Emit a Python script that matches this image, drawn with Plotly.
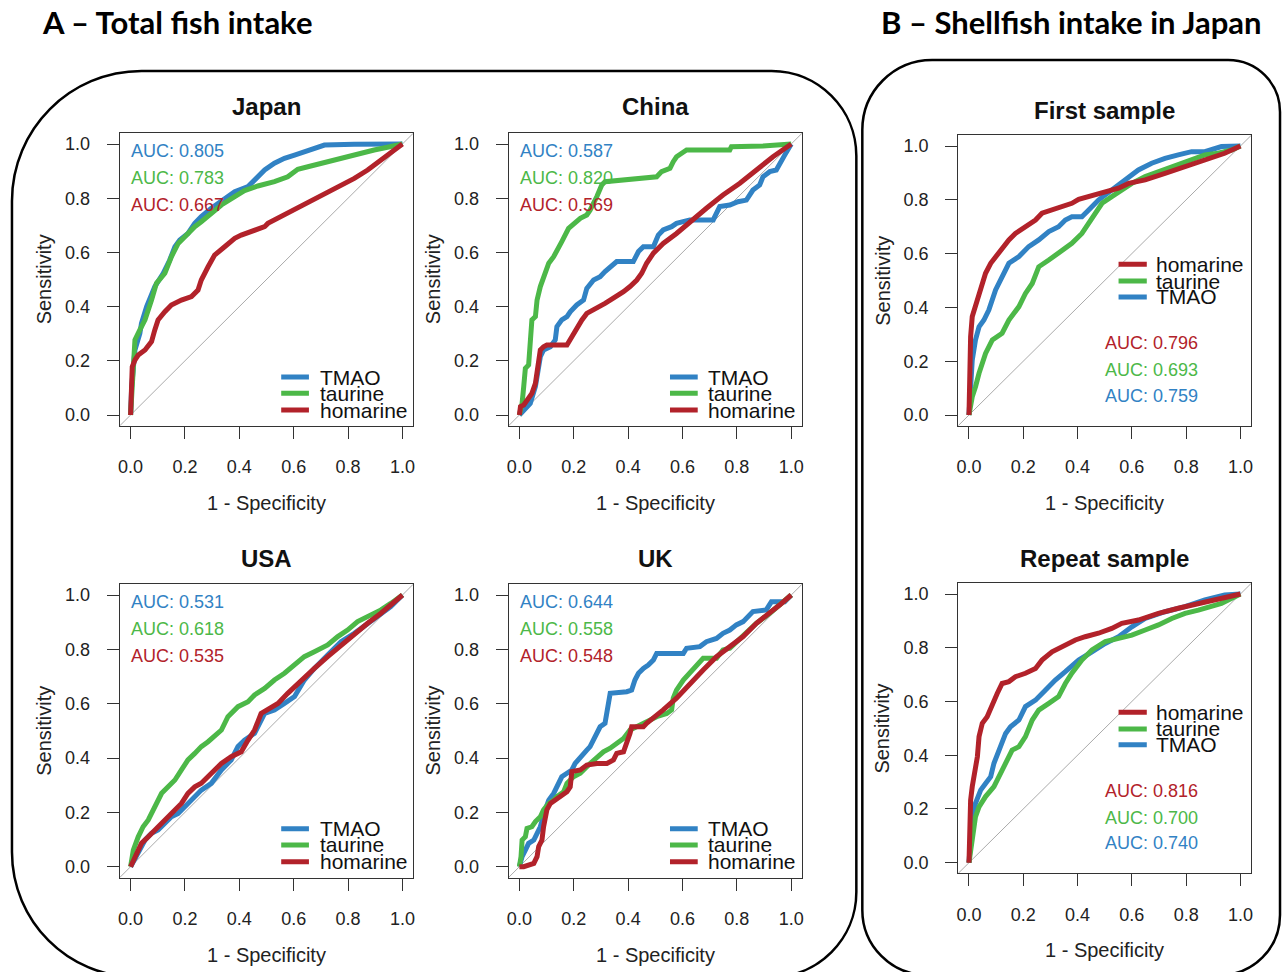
import plotly.graph_objects as go

W, H = 1287, 972
BLUE = "#3182C4"
GREEN = "#4CB848"
RED = "#B2222A"
FONT = "Liberation Sans, Arial, Helvetica, sans-serif"

# ---------------- data ----------------
japan_tmao_x = [0, 0.004, 0.016, 0.034, 0.040, 0.059, 0.089, 0.120, 0.144, 0.163, 0.181, 0.211, 0.236, 0.260, 0.297, 0.346, 0.383, 0.432, 0.456, 0.493, 0.529, 0.566, 0.603, 0.639, 0.676, 0.713, 0.823, 1.0]
japan_tmao_y = [0, 0.105, 0.240, 0.301, 0.338, 0.400, 0.474, 0.523, 0.572, 0.621, 0.646, 0.670, 0.707, 0.732, 0.763, 0.800, 0.824, 0.843, 0.867, 0.904, 0.929, 0.947, 0.959, 0.972, 0.984, 0.996, 0.999, 1.0]
japan_taurine_x = [0, 0.006, 0.016, 0.034, 0.053, 0.077, 0.095, 0.126, 0.150, 0.175, 0.205, 0.236, 0.260, 0.297, 0.334, 0.383, 0.419, 0.468, 0.529, 0.578, 0.615, 0.652, 0.700, 0.749, 0.798, 0.847, 0.896, 0.945, 1.0]
japan_taurine_y = [0, 0.129, 0.277, 0.314, 0.351, 0.424, 0.486, 0.523, 0.584, 0.633, 0.664, 0.695, 0.713, 0.744, 0.775, 0.806, 0.828, 0.845, 0.861, 0.879, 0.907, 0.916, 0.929, 0.938, 0.951, 0.968, 0.978, 0.988, 1.0]
japan_homarine_x = [0, 0.001, 0.006, 0.016, 0.028, 0.053, 0.077, 0.089, 0.101, 0.126, 0.150, 0.187, 0.224, 0.248, 0.260, 0.285, 0.309, 0.346, 0.383, 0.407, 0.456, 0.493, 0.505, 0.542, 0.578, 0.627, 0.676, 0.725, 0.774, 0.823, 0.872, 0.921, 0.969, 1.0]
japan_homarine_y = [0, 0.105, 0.178, 0.203, 0.221, 0.240, 0.271, 0.314, 0.351, 0.381, 0.406, 0.424, 0.437, 0.461, 0.498, 0.547, 0.590, 0.621, 0.652, 0.664, 0.683, 0.695, 0.707, 0.726, 0.744, 0.769, 0.793, 0.818, 0.843, 0.873, 0.904, 0.941, 0.972, 1.0]

china_tmao_x = [0, 0.016, 0.040, 0.059, 0.065, 0.077, 0.089, 0.114, 0.132, 0.138, 0.156, 0.175, 0.187, 0.211, 0.236, 0.248, 0.273, 0.297, 0.315, 0.340, 0.358, 0.419, 0.438, 0.456, 0.493, 0.511, 0.529, 0.560, 0.578, 0.627, 0.676, 0.713, 0.737, 0.774, 0.804, 0.835, 0.859, 0.884, 0.896, 0.921, 0.945, 0.957, 0.976, 1.0]
china_tmao_y = [0, 0.018, 0.043, 0.105, 0.154, 0.215, 0.240, 0.252, 0.277, 0.326, 0.351, 0.363, 0.381, 0.406, 0.424, 0.467, 0.498, 0.510, 0.529, 0.554, 0.566, 0.566, 0.603, 0.621, 0.621, 0.664, 0.683, 0.695, 0.707, 0.720, 0.720, 0.720, 0.769, 0.775, 0.787, 0.793, 0.830, 0.849, 0.879, 0.898, 0.904, 0.929, 0.959, 1.0]
china_taurine_x = [0, 0.010, 0.016, 0.022, 0.034, 0.040, 0.046, 0.059, 0.065, 0.077, 0.089, 0.108, 0.126, 0.138, 0.156, 0.181, 0.199, 0.224, 0.248, 0.260, 0.285, 0.303, 0.315, 0.395, 0.419, 0.505, 0.523, 0.554, 0.566, 0.578, 0.597, 0.615, 0.774, 0.780, 0.896, 1.0]
china_taurine_y = [0, 0.043, 0.105, 0.172, 0.185, 0.252, 0.351, 0.363, 0.424, 0.474, 0.510, 0.560, 0.584, 0.603, 0.640, 0.689, 0.707, 0.726, 0.738, 0.756, 0.806, 0.849, 0.861, 0.867, 0.873, 0.879, 0.898, 0.910, 0.935, 0.953, 0.966, 0.978, 0.978, 0.990, 0.993, 1.0]
china_homarine_x = [0, 0.004, 0.016, 0.028, 0.046, 0.059, 0.065, 0.071, 0.077, 0.089, 0.101, 0.175, 0.193, 0.211, 0.230, 0.248, 0.273, 0.297, 0.315, 0.334, 0.358, 0.383, 0.407, 0.432, 0.450, 0.468, 0.493, 0.529, 0.578, 0.627, 0.688, 0.749, 0.811, 0.872, 0.933, 1.0]
china_homarine_y = [0, 0.031, 0.037, 0.055, 0.080, 0.117, 0.154, 0.191, 0.240, 0.252, 0.258, 0.258, 0.289, 0.326, 0.351, 0.375, 0.387, 0.400, 0.412, 0.424, 0.437, 0.455, 0.474, 0.498, 0.523, 0.560, 0.597, 0.633, 0.670, 0.713, 0.763, 0.812, 0.855, 0.904, 0.953, 1.0]

usa_tmao_x = [0, 0.028, 0.053, 0.077, 0.101, 0.126, 0.150, 0.175, 0.199, 0.224, 0.260, 0.297, 0.334, 0.370, 0.395, 0.419, 0.456, 0.493, 0.529, 0.566, 0.603, 0.639, 0.676, 0.725, 0.774, 0.823, 0.872, 0.921, 0.957, 1.0]
usa_tmao_y = [0, 0.049, 0.098, 0.123, 0.135, 0.160, 0.184, 0.196, 0.221, 0.245, 0.282, 0.307, 0.356, 0.393, 0.442, 0.466, 0.491, 0.564, 0.577, 0.601, 0.626, 0.687, 0.730, 0.779, 0.828, 0.859, 0.896, 0.933, 0.957, 1.0]
usa_taurine_x = [0, 0.010, 0.028, 0.046, 0.065, 0.089, 0.114, 0.138, 0.163, 0.187, 0.211, 0.236, 0.260, 0.285, 0.309, 0.334, 0.358, 0.395, 0.432, 0.456, 0.493, 0.529, 0.566, 0.603, 0.639, 0.676, 0.725, 0.762, 0.798, 0.835, 0.872, 0.921, 0.957, 1.0]
usa_taurine_y = [0, 0.061, 0.110, 0.147, 0.172, 0.221, 0.270, 0.294, 0.319, 0.356, 0.393, 0.417, 0.442, 0.460, 0.479, 0.503, 0.552, 0.589, 0.607, 0.632, 0.656, 0.687, 0.712, 0.742, 0.773, 0.791, 0.816, 0.847, 0.871, 0.902, 0.920, 0.945, 0.969, 1.0]
usa_homarine_x = [0, 0.016, 0.040, 0.065, 0.089, 0.114, 0.138, 0.163, 0.187, 0.211, 0.236, 0.260, 0.297, 0.334, 0.370, 0.407, 0.432, 0.456, 0.480, 0.505, 0.542, 0.578, 0.627, 0.676, 0.725, 0.774, 0.823, 0.872, 0.921, 0.957, 1.0]
usa_homarine_y = [0, 0.037, 0.086, 0.110, 0.135, 0.160, 0.184, 0.209, 0.233, 0.270, 0.294, 0.307, 0.344, 0.380, 0.405, 0.423, 0.466, 0.503, 0.564, 0.577, 0.601, 0.638, 0.687, 0.730, 0.773, 0.816, 0.859, 0.896, 0.933, 0.963, 1.0]

uk_tmao_x = [0, 0.010, 0.022, 0.034, 0.053, 0.065, 0.077, 0.095, 0.108, 0.126, 0.138, 0.156, 0.175, 0.193, 0.205, 0.224, 0.248, 0.260, 0.273, 0.285, 0.297, 0.315, 0.328, 0.334, 0.395, 0.413, 0.425, 0.438, 0.456, 0.474, 0.493, 0.505, 0.603, 0.615, 0.664, 0.688, 0.725, 0.749, 0.774, 0.798, 0.823, 0.841, 0.859, 0.908, 0.927, 0.976, 1.0]
uk_tmao_y = [0, 0.037, 0.061, 0.086, 0.098, 0.123, 0.147, 0.209, 0.245, 0.270, 0.294, 0.331, 0.344, 0.356, 0.380, 0.405, 0.429, 0.442, 0.466, 0.491, 0.515, 0.528, 0.601, 0.638, 0.644, 0.650, 0.687, 0.712, 0.730, 0.742, 0.761, 0.785, 0.785, 0.804, 0.810, 0.828, 0.840, 0.859, 0.871, 0.890, 0.902, 0.920, 0.939, 0.945, 0.975, 0.975, 1.0]
uk_taurine_x = [0, 0.006, 0.010, 0.022, 0.028, 0.046, 0.059, 0.077, 0.089, 0.108, 0.126, 0.138, 0.163, 0.175, 0.199, 0.224, 0.260, 0.285, 0.309, 0.334, 0.358, 0.383, 0.407, 0.432, 0.468, 0.505, 0.542, 0.560, 0.566, 0.578, 0.603, 0.627, 0.652, 0.676, 0.725, 0.749, 0.774, 0.798, 0.835, 0.872, 0.921, 0.957, 1.0]
uk_taurine_y = [0, 0.037, 0.098, 0.110, 0.141, 0.147, 0.166, 0.184, 0.209, 0.233, 0.245, 0.258, 0.276, 0.307, 0.331, 0.344, 0.380, 0.405, 0.423, 0.436, 0.454, 0.472, 0.503, 0.515, 0.534, 0.552, 0.564, 0.577, 0.620, 0.650, 0.687, 0.712, 0.736, 0.767, 0.767, 0.798, 0.804, 0.828, 0.865, 0.896, 0.933, 0.963, 1.0]
uk_homarine_x = [0, 0.016, 0.053, 0.065, 0.071, 0.083, 0.089, 0.101, 0.114, 0.132, 0.150, 0.175, 0.187, 0.193, 0.224, 0.248, 0.285, 0.322, 0.346, 0.358, 0.383, 0.395, 0.407, 0.413, 0.456, 0.468, 0.493, 0.529, 0.578, 0.627, 0.676, 0.725, 0.774, 0.823, 0.872, 0.921, 0.957, 1.0]
uk_homarine_y = [0, 0.0, 0.012, 0.037, 0.074, 0.098, 0.147, 0.209, 0.233, 0.245, 0.258, 0.276, 0.294, 0.350, 0.356, 0.374, 0.380, 0.380, 0.393, 0.417, 0.423, 0.454, 0.491, 0.515, 0.515, 0.528, 0.546, 0.577, 0.620, 0.675, 0.724, 0.773, 0.810, 0.847, 0.896, 0.933, 0.963, 1.0]

first_tmao_x = [0, 0.006, 0.012, 0.024, 0.037, 0.055, 0.073, 0.098, 0.122, 0.147, 0.184, 0.220, 0.257, 0.294, 0.330, 0.355, 0.379, 0.416, 0.441, 0.477, 0.526, 0.575, 0.624, 0.673, 0.722, 0.771, 0.820, 0.869, 0.930, 1.0]
first_tmao_y = [0, 0.130, 0.204, 0.279, 0.328, 0.353, 0.390, 0.465, 0.514, 0.564, 0.589, 0.626, 0.651, 0.682, 0.700, 0.725, 0.737, 0.737, 0.762, 0.799, 0.836, 0.874, 0.911, 0.936, 0.954, 0.967, 0.979, 0.979, 0.998, 1.0]
first_taurine_x = [0, 0.012, 0.024, 0.037, 0.061, 0.086, 0.122, 0.147, 0.184, 0.208, 0.233, 0.257, 0.294, 0.330, 0.379, 0.416, 0.441, 0.465, 0.490, 0.526, 0.563, 0.600, 0.649, 0.698, 0.747, 0.820, 0.869, 0.918, 0.967, 1.0]
first_taurine_y = [0, 0.068, 0.105, 0.155, 0.229, 0.279, 0.304, 0.353, 0.403, 0.452, 0.489, 0.551, 0.576, 0.601, 0.638, 0.675, 0.713, 0.750, 0.787, 0.812, 0.836, 0.861, 0.886, 0.905, 0.923, 0.948, 0.967, 0.973, 0.985, 1.0]
first_homarine_x = [0, 0.002, 0.006, 0.012, 0.024, 0.037, 0.049, 0.061, 0.080, 0.098, 0.122, 0.147, 0.171, 0.208, 0.245, 0.269, 0.306, 0.343, 0.379, 0.404, 0.441, 0.477, 0.514, 0.551, 0.588, 0.649, 0.722, 0.796, 0.869, 0.942, 1.0]
first_homarine_y = [0, 0.105, 0.291, 0.366, 0.403, 0.440, 0.477, 0.527, 0.564, 0.589, 0.620, 0.651, 0.675, 0.700, 0.725, 0.750, 0.762, 0.772, 0.787, 0.802, 0.812, 0.822, 0.830, 0.843, 0.861, 0.874, 0.898, 0.923, 0.948, 0.973, 1.0]

repeat_tmao_x = [0, 0.006, 0.012, 0.024, 0.043, 0.061, 0.080, 0.092, 0.110, 0.135, 0.153, 0.184, 0.208, 0.245, 0.282, 0.318, 0.355, 0.404, 0.453, 0.502, 0.551, 0.600, 0.649, 0.722, 0.796, 0.869, 0.942, 1.0]
repeat_tmao_y = [0, 0.122, 0.171, 0.221, 0.270, 0.295, 0.320, 0.370, 0.419, 0.481, 0.506, 0.531, 0.581, 0.605, 0.643, 0.680, 0.711, 0.754, 0.785, 0.816, 0.841, 0.878, 0.909, 0.934, 0.953, 0.978, 0.996, 1.0]
repeat_taurine_x = [0, 0.012, 0.024, 0.037, 0.061, 0.092, 0.122, 0.159, 0.184, 0.208, 0.233, 0.257, 0.294, 0.330, 0.355, 0.379, 0.416, 0.453, 0.502, 0.551, 0.600, 0.649, 0.698, 0.747, 0.796, 0.845, 0.894, 0.930, 1.0]
repeat_taurine_y = [0, 0.097, 0.171, 0.208, 0.246, 0.283, 0.345, 0.419, 0.432, 0.469, 0.531, 0.568, 0.593, 0.618, 0.667, 0.705, 0.754, 0.792, 0.823, 0.835, 0.847, 0.866, 0.885, 0.909, 0.928, 0.940, 0.953, 0.965, 1.0]
repeat_homarine_x = [0, 0.002, 0.006, 0.012, 0.018, 0.031, 0.037, 0.049, 0.067, 0.086, 0.104, 0.122, 0.147, 0.171, 0.208, 0.245, 0.269, 0.306, 0.343, 0.392, 0.428, 0.477, 0.526, 0.563, 0.624, 0.698, 0.771, 0.845, 0.918, 1.0]
repeat_homarine_y = [0, 0.097, 0.233, 0.283, 0.320, 0.395, 0.469, 0.519, 0.543, 0.593, 0.630, 0.667, 0.674, 0.692, 0.705, 0.723, 0.754, 0.785, 0.804, 0.829, 0.841, 0.854, 0.872, 0.891, 0.903, 0.928, 0.947, 0.965, 0.984, 1.0]

markers = ["TMAO", "taurine", "homarine"]
colors = {"TMAO": BLUE, "taurine": GREEN, "homarine": RED}

auc_values = {
    "Japan": {"TMAO": "0.805", "taurine": "0.783", "homarine": "0.667"},
    "China": {"TMAO": "0.587", "taurine": "0.820", "homarine": "0.569"},
    "USA": {"TMAO": "0.531", "taurine": "0.618", "homarine": "0.535"},
    "UK": {"TMAO": "0.644", "taurine": "0.558", "homarine": "0.548"},
    "First sample": {"TMAO": "0.759", "taurine": "0.693", "homarine": "0.796"},
    "Repeat sample": {"TMAO": "0.740", "taurine": "0.700", "homarine": "0.816"},
}

curves = {
    "Japan": {"TMAO": (japan_tmao_x, japan_tmao_y), "taurine": (japan_taurine_x, japan_taurine_y), "homarine": (japan_homarine_x, japan_homarine_y)},
    "China": {"TMAO": (china_tmao_x, china_tmao_y), "taurine": (china_taurine_x, china_taurine_y), "homarine": (china_homarine_x, china_homarine_y)},
    "USA": {"TMAO": (usa_tmao_x, usa_tmao_y), "taurine": (usa_taurine_x, usa_taurine_y), "homarine": (usa_homarine_x, usa_homarine_y)},
    "UK": {"TMAO": (uk_tmao_x, uk_tmao_y), "taurine": (uk_taurine_x, uk_taurine_y), "homarine": (uk_homarine_x, uk_homarine_y)},
    "First sample": {"TMAO": (first_tmao_x, first_tmao_y), "taurine": (first_taurine_x, first_taurine_y), "homarine": (first_homarine_x, first_homarine_y)},
    "Repeat sample": {"TMAO": (repeat_tmao_x, repeat_tmao_y), "taurine": (repeat_taurine_x, repeat_taurine_y), "homarine": (repeat_homarine_x, repeat_homarine_y)},
}

tick_vals = [0, 0.2, 0.4, 0.6, 0.8, 1.0]
tick_text = ["0.0", "0.2", "0.4", "0.6", "0.8", "1.0"]

# ---------------- layout geometry (pixels) ----------------
# name: (x of 0, x of 1, y of 1, y of 0, title y, xlabel y, ylabel x, panel type)
panels = [
    ("Japan", 129.0, 401.7, 144.0, 415.0, 107, 503, 42, "A"),
    ("China", 519.0, 791.7, 144.0, 415.0, 107, 503, 432, "A"),
    ("USA", 129.0, 401.7, 595.0, 866.7, 558, 955, 42, "A"),
    ("UK", 519.0, 791.7, 595.0, 866.7, 558, 955, 432, "A"),
    ("First sample", 970.0, 1242.3, 146.0, 415.0, 111, 503, 883, "B"),
    ("Repeat sample", 970.0, 1242.3, 594.0, 862.7, 558, 950, 883, "B"),
]

PAD = 0.04
fig = go.Figure()
annotations = []
shapes = []
layout_axes = {}


def px(x):
    return x / W


def py(y):
    return 1 - y / H


for i, (name, x0p, x1p, y1p, y0p, ty, xly, ylx, kind) in enumerate(panels):
    k = i + 1
    xa = "x" if k == 1 else f"x{k}"
    ya = "y" if k == 1 else f"y{k}"
    sx = x1p - x0p
    sy = y0p - y1p
    xdom = [px(x0p - PAD * sx), px(x1p + PAD * sx)]
    ydom = [py(y0p + PAD * sy), py(y1p - PAD * sy)]
    axcommon = dict(
        range=[-PAD, 1 + PAD], tickvals=tick_vals, ticktext=tick_text,
        ticks="outside", ticklen=12, tickwidth=1, tickcolor="#333",
        showline=True, mirror=True, linecolor="#333", linewidth=1,
        showgrid=False, zeroline=False, fixedrange=True,
        tickfont=dict(family=FONT, size=18, color="#222"),
    )
    layout_axes["xaxis" if k == 1 else f"xaxis{k}"] = dict(axcommon, domain=xdom, anchor=ya, ticklabelstandoff=13)
    layout_axes["yaxis" if k == 1 else f"yaxis{k}"] = dict(axcommon, domain=ydom, anchor=xa, ticklabelstandoff=13)

    # diagonal reference
    fig.add_trace(go.Scatter(x=[-PAD, 1 + PAD], y=[-PAD, 1 + PAD], mode="lines",
                             line=dict(color="#aaaaaa", width=1), xaxis=xa, yaxis=ya,
                             showlegend=False, hoverinfo="skip"))
    for m in markers:
        cx, cy = curves[name][m]
        fig.add_trace(go.Scatter(x=cx, y=cy, mode="lines", name=m,
                                 line=dict(color=colors[m], width=5),
                                 xaxis=xa, yaxis=ya, showlegend=False))

    # titles
    annotations.append(dict(text=f"<b>{name}</b>", x=px((x0p + x1p) / 2), y=py(ty), xref="paper", yref="paper",
                            showarrow=False, font=dict(family=FONT, size=24, color="#111"),
                            xanchor="center", yanchor="middle"))
    annotations.append(dict(text="1 - Specificity", x=px((x0p + x1p) / 2), y=py(xly), xref="paper", yref="paper",
                            showarrow=False, font=dict(family=FONT, size=20, color="#222"),
                            xanchor="center", yanchor="middle"))
    annotations.append(dict(text="Sensitivity", x=px(ylx), y=py((y0p + y1p) / 2), xref="paper", yref="paper",
                            showarrow=False, textangle=-90, font=dict(family=FONT, size=20, color="#222"),
                            xanchor="center", yanchor="middle"))

    if kind == "A":
        auc_order = markers
        auc_y = [0.976, 0.874, 0.774]
        auc_x = -0.005
        leg_order = markers
        leg_y = [0.140, 0.080, 0.018]
        lx0, lx1, ltx = 0.554, 0.656, 0.688
    else:
        auc_order = ["homarine", "taurine", "TMAO"]
        auc_y = [0.267, 0.168, 0.072]
        auc_x = 0.492
        leg_order = ["homarine", "taurine", "TMAO"]
        leg_y = [0.560, 0.498, 0.439]
        lx0, lx1, ltx = 0.551, 0.655, 0.681
    for m, yv in zip(auc_order, auc_y):
        annotations.append(dict(text=f"AUC: {auc_values[name][m]}", x=auc_x, y=yv, xref=xa, yref=ya,
                                showarrow=False, xanchor="left", yanchor="middle",
                                font=dict(family=FONT, size=18, color=colors[m])))
    for m, yv in zip(leg_order, leg_y):
        shapes.append(dict(type="line", xref=xa, yref=ya, x0=lx0, x1=lx1, y0=yv, y1=yv,
                           line=dict(color=colors[m], width=5)))
        annotations.append(dict(text=m, x=ltx, y=yv, xref=xa, yref=ya, showarrow=False,
                                xanchor="left", yanchor="middle",
                                font=dict(family=FONT, size=21, color="#111")))


def rounded_rect(x0, y0, x1, y1, rtl, rtr, rbr, rbl):
    kk = 0.5523

    def P(x, y):
        return f"{px(x):.5f},{py(y):.5f}"
    d = f"M {P(x0 + rtl, y0)} L {P(x1 - rtr, y0)} "
    d += f"C {P(x1 - rtr + kk * rtr, y0)} {P(x1, y0 + rtr - kk * rtr)} {P(x1, y0 + rtr)} "
    d += f"L {P(x1, y1 - rbr)} "
    d += f"C {P(x1, y1 - rbr + kk * rbr)} {P(x1 - rbr + kk * rbr, y1)} {P(x1 - rbr, y1)} "
    d += f"L {P(x0 + rbl, y1)} "
    d += f"C {P(x0 + rbl - kk * rbl, y1)} {P(x0, y1 - rbl + kk * rbl)} {P(x0, y1 - rbl)} "
    d += f"L {P(x0, y0 + rtl)} "
    d += f"C {P(x0, y0 + rtl - kk * rtl)} {P(x0 + rtl - kk * rtl, y0)} {P(x0 + rtl, y0)} Z"
    return d


shapes.append(dict(type="path", xref="paper", yref="paper", layer="below",
                   path=rounded_rect(10, 71, 857, 977, 130, 85, 85, 125),
                   line=dict(color="#000", width=2.5)))
shapes.append(dict(type="path", xref="paper", yref="paper", layer="below",
                   path=rounded_rect(863, 60, 1282, 975, 70, 52, 60, 65),
                   line=dict(color="#000", width=2.5)))

annotations.append(dict(text="<b>A – Total fish intake</b>", x=px(38), y=py(22), xref="paper", yref="paper",
                        showarrow=False, xanchor="left", yanchor="middle",
                        font=dict(family="Lato, Carlito, Calibri, sans-serif", size=31, color="#000")))
annotations.append(dict(text="<b>B – Shellfish intake in Japan</b>", x=px(880), y=py(22), xref="paper", yref="paper",
                        showarrow=False, xanchor="left", yanchor="middle",
                        font=dict(family="Lato, Carlito, Calibri, sans-serif", size=31, color="#000")))

fig.update_layout(
    width=W, height=H, margin=dict(l=0, r=0, t=0, b=0),
    paper_bgcolor="white", plot_bgcolor="white",
    showlegend=False, annotations=annotations, shapes=shapes,
    **layout_axes,
)

fig.write_html("out.html", config={"displayModeBar": False},
               post_script="document.body.style.margin='0px';")
